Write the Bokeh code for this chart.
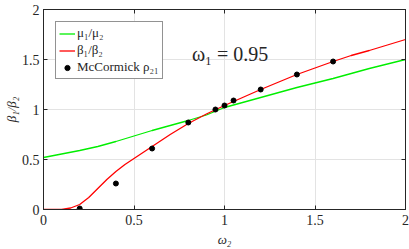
from bokeh.plotting import figure
from bokeh.models import LinearAxis, Range1d, FixedTicker, Legend, LegendItem
from bokeh.core.properties import value
from bokeh.embed import file_html
from bokeh.resources import INLINE

# data
green_x = [0, 0.1, 0.2, 0.3, 0.4, 0.5, 0.6, 0.7, 0.8, 0.9, 1.0, 1.1, 1.2, 1.3, 1.4, 1.5, 1.6, 1.7, 1.8, 1.9, 2.0]
green_y = [0.52, 0.555, 0.59, 0.63, 0.68, 0.735, 0.79, 0.84, 0.89, 0.945, 1.02, 1.07, 1.12, 1.17, 1.22, 1.265, 1.31, 1.36, 1.41, 1.455, 1.5]

red_x = [0, 0.05, 0.1, 0.15, 0.2, 0.25, 0.3, 0.35, 0.4, 0.45, 0.5, 0.6, 0.7, 0.8, 0.9, 1.0,
         1.1, 1.2, 1.3, 1.4, 1.5, 1.6, 1.7, 1.8, 1.9, 2.0]
red_y = [0, 0, 0.002, 0.015, 0.05, 0.12, 0.21, 0.30, 0.38, 0.45, 0.51, 0.63, 0.75, 0.86, 0.955, 1.04,
         1.12, 1.2, 1.275, 1.35, 1.415, 1.48, 1.54, 1.59, 1.645, 1.70]

mc_x = [0.2, 0.4, 0.6, 0.8, 0.95, 1.0, 1.05, 1.2, 1.4, 1.6]
mc_y = [0.01, 0.26, 0.61, 0.87, 1.0, 1.04, 1.09, 1.2, 1.35, 1.48]

x_ticks = [0, 0.5, 1, 1.5, 2]
y_ticks = [0, 0.5, 1, 1.5, 2]

note_text = ["ω₁ = 0.95"]
note_x = [0.82]
note_y = [1.555]

FONT = "'Liberation Serif', serif"
AX = "#262626"

p = figure(width=409, height=249, output_backend="svg", toolbar_location=None,
           x_range=Range1d(0, 2), y_range=Range1d(0, 2),
           min_border_left=41, min_border_right=4, min_border_top=9, min_border_bottom=40)
p.outline_line_color = AX
p.outline_line_width = 1

for ax in (p.xaxis[0], p.yaxis[0]):
    ax.major_tick_in = 4
    ax.major_tick_out = 0
    ax.minor_tick_line_color = None
    ax.axis_line_color = AX
    ax.major_tick_line_color = AX
    ax.major_label_text_font = FONT
    ax.major_label_text_font_size = "14px"
    ax.major_label_text_color = AX
    ax.axis_label_text_font = FONT
    ax.axis_label_text_font_style = "italic"
    ax.axis_label_text_font_size = "13px"
    ax.axis_label_text_color = AX
p.xaxis[0].major_label_standoff = 5
p.xaxis[0].axis_label_standoff = 4
p.yaxis[0].major_label_standoff = 4
p.yaxis[0].axis_label_standoff = 0
p.xaxis[0].ticker = FixedTicker(ticks=x_ticks)
p.yaxis[0].ticker = FixedTicker(ticks=y_ticks)
p.xaxis[0].major_label_overrides = {0: "0", 1: "1", 2: "2"}
p.yaxis[0].major_label_overrides = {0: "0", 1: "1", 2: "2"}
p.xaxis.axis_label = "ω₂"
p.yaxis.axis_label = "β₁/β₂"

top = LinearAxis(ticker=FixedTicker(ticks=x_ticks),
                 major_label_overrides={t: "" for t in x_ticks},
                 major_tick_in=4, major_tick_out=0, minor_tick_line_color=None,
                 axis_line_color=AX, major_tick_line_color=AX, major_label_standoff=0)
right = LinearAxis(ticker=FixedTicker(ticks=y_ticks),
                   major_label_overrides={t: "" for t in y_ticks},
                   major_tick_in=4, major_tick_out=0, minor_tick_line_color=None,
                   axis_line_color=AX, major_tick_line_color=AX, major_label_standoff=0)
p.add_layout(top, "above")
p.add_layout(right, "right")

p.xgrid.ticker = FixedTicker(ticks=x_ticks)
p.ygrid.ticker = FixedTicker(ticks=y_ticks)
p.grid.grid_line_color = "#e3e3e3"
p.grid.grid_line_width = 1

g = p.line(green_x, green_y, line_color="#00ee00", line_width=1.3)
r = p.line(red_x, red_y, line_color="#ff0000", line_width=1.3)
d = p.scatter(mc_x, mc_y, size=5, fill_color="black", line_color="black")

legend = Legend(items=[LegendItem(label="μ₁/μ₂", renderers=[g]),
                       LegendItem(label="β₁/β₂", renderers=[r]),
                       LegendItem(label="McCormick ρ₂₁", renderers=[d])],
                location="top_left")
legend.label_text_font = FONT
legend.label_text_font_size = "13px"
legend.label_text_color = AX
legend.border_line_color = AX
legend.border_line_width = 1
legend.glyph_width = 16
legend.glyph_height = 13
legend.label_height = 13
legend.spacing = 1
legend.padding = 3
legend.margin = 12
legend.label_standoff = 2
legend.background_fill_alpha = 1
p.add_layout(legend)

p.text(x=note_x, y=note_y, text=note_text, text_font=value(FONT), text_font_size="20px",
       text_color=AX, text_baseline="alphabetic", text_align="left")

open("out.html", "w").write(file_html(p, INLINE))
